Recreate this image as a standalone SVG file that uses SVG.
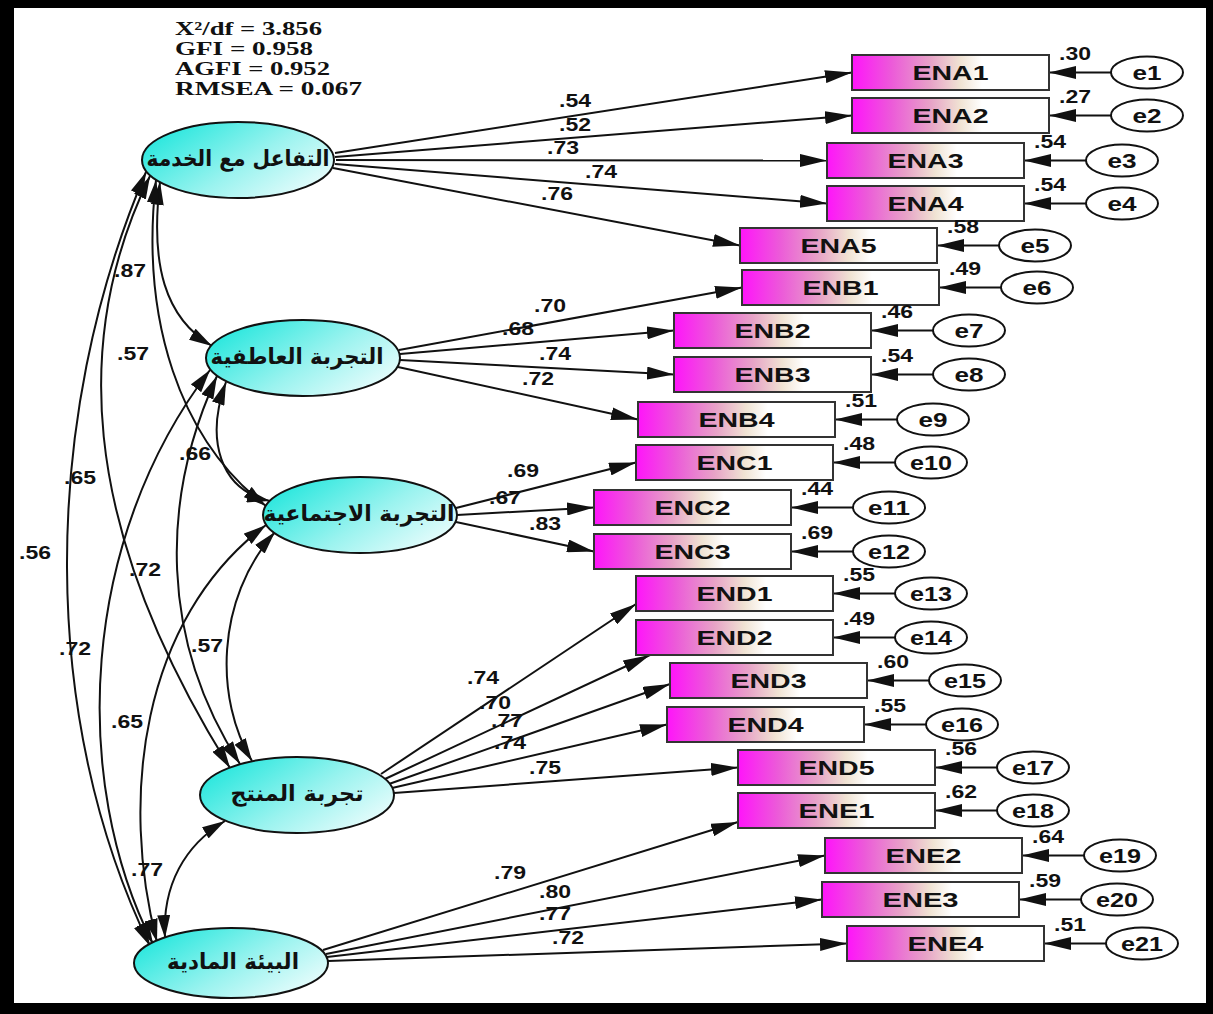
<svg xmlns="http://www.w3.org/2000/svg" width="1213" height="1014" viewBox="0 0 1213 1014">
<defs>
<linearGradient id="gCyan" x1="0" y1="0.2" x2="1" y2="0.8">
<stop offset="0" stop-color="#1fe6dc"/>
<stop offset="0.55" stop-color="#9af3ef"/>
<stop offset="1" stop-color="#eefdfd"/>
</linearGradient>
<linearGradient id="gMag" x1="0" y1="0" x2="1" y2="0">
<stop offset="0" stop-color="#ff14fa"/>
<stop offset="0.2" stop-color="#ec5ad9"/>
<stop offset="0.4" stop-color="#e7a3c7"/>
<stop offset="0.55" stop-color="#f0e3d3"/>
<stop offset="0.66" stop-color="#ffffff"/>
<stop offset="1" stop-color="#ffffff"/>
</linearGradient>
<marker id="ah" viewBox="0 0 27 13" refX="27" refY="6.5" markerWidth="27" markerHeight="13" markerUnits="userSpaceOnUse" orient="auto"><path d="M0,0 L27,6.5 L0,13 z" fill="#111"/></marker>
<marker id="ahc" viewBox="0 0 23 13" refX="23" refY="6.5" markerWidth="23" markerHeight="13" markerUnits="userSpaceOnUse" orient="auto-start-reverse"><path d="M0,0 L23,6.5 L0,13 z" fill="#111"/></marker>
<style>
.lat{fill:url(#gCyan);stroke:#111;stroke-width:2}
.obs{fill:url(#gMag);stroke:#333;stroke-width:2}
.err{fill:#fff;stroke:#111;stroke-width:2}
.ln{stroke:#111;stroke-width:2;fill:none;marker-end:url(#ah)}
.cov{stroke:#111;stroke-width:2;fill:none;marker-start:url(#ahc);marker-end:url(#ahc)}
.lbl{font-family:"Liberation Sans",Arial,sans-serif;font-weight:bold;font-size:19px;fill:#111}
.bx{font-family:"Liberation Sans",Arial,sans-serif;font-weight:bold;font-size:20px;fill:#111}
.ar{font-family:"DejaVu Sans",sans-serif;font-weight:bold;font-size:22px;fill:#111;text-anchor:middle}
.stat{font-family:"Liberation Serif","Times New Roman",serif;font-weight:bold;font-size:19px;fill:#111}
</style>
</defs>
<rect x="0" y="0" width="1213" height="1014" fill="#000"/>
<rect x="14" y="8" width="1192" height="995" fill="#fff"/>
<g id="fit">
<text class="stat" x="175" y="35" textLength="147" lengthAdjust="spacingAndGlyphs">X²/df = 3.856</text>
<text class="stat" x="175" y="55" textLength="138" lengthAdjust="spacingAndGlyphs">GFI = 0.958</text>
<text class="stat" x="175" y="75" textLength="155" lengthAdjust="spacingAndGlyphs">AGFI = 0.952</text>
<text class="stat" x="175" y="95" textLength="187" lengthAdjust="spacingAndGlyphs">RMSEA = 0.067</text>
</g>
<g id="connectors">
<path class="ln" d="M335,153 L852,72.5"/>
<path class="ln" d="M335,157 L852,115.5"/>
<path class="ln" d="M336,160 L827,160.5"/>
<path class="ln" d="M335,164 L827,203.5"/>
<path class="ln" d="M333,168 L740,245.5"/>
<path class="ln" d="M399,350 L742,287.5"/>
<path class="ln" d="M400,354 L674,330.5"/>
<path class="ln" d="M400,360 L674,374.5"/>
<path class="ln" d="M398,367 L638,419.5"/>
<path class="ln" d="M456,508 L636,462.5"/>
<path class="ln" d="M457,515 L594,507.5"/>
<path class="ln" d="M456,522 L594,551.5"/>
<path class="ln" d="M381,774 L636,604"/>
<path class="ln" d="M385,779 L650,655"/>
<path class="ln" d="M389,784 L670,684"/>
<path class="ln" d="M392,788 L667,724.5"/>
<path class="ln" d="M394,793 L738,767.5"/>
<path class="ln" d="M323,950 L738,822"/>
<path class="ln" d="M326,954 L825,855.5"/>
<path class="ln" d="M327,957 L822,899.5"/>
<path class="ln" d="M328,961 L847,943.5"/>
<path class="ln" d="M1111,72.5 L1049,72.5"/>
<path class="ln" d="M1111,115.5 L1049,115.5"/>
<path class="ln" d="M1086,160.5 L1024,160.5"/>
<path class="ln" d="M1086,203.5 L1024,203.5"/>
<path class="ln" d="M999,245.5 L937,245.5"/>
<path class="ln" d="M1001,287.5 L939,287.5"/>
<path class="ln" d="M933,330.5 L871,330.5"/>
<path class="ln" d="M933,374.5 L871,374.5"/>
<path class="ln" d="M897,419.5 L835,419.5"/>
<path class="ln" d="M895,462.5 L833,462.5"/>
<path class="ln" d="M853,507.5 L791,507.5"/>
<path class="ln" d="M853,551.5 L791,551.5"/>
<path class="ln" d="M895,593.5 L833,593.5"/>
<path class="ln" d="M895,637.5 L833,637.5"/>
<path class="ln" d="M929,680.5 L867,680.5"/>
<path class="ln" d="M926,724.5 L864,724.5"/>
<path class="ln" d="M997,767.5 L935,767.5"/>
<path class="ln" d="M997,810.5 L935,810.5"/>
<path class="ln" d="M1084,855.5 L1022,855.5"/>
<path class="ln" d="M1081,899.5 L1019,899.5"/>
<path class="ln" d="M1106,943.5 L1044,943.5"/>
<path class="cov" d="M160,182 C150,265 165,318 212,346"/>
<path class="cov" d="M156,180 C140,320 180,440 266,506"/>
<path class="cov" d="M150,176 C75,330 75,520 230,768"/>
<path class="cov" d="M146,172 C40,420 40,720 150,946"/>
<path class="cov" d="M226,382 C205,440 220,490 270,501"/>
<path class="cov" d="M217,376 C160,500 160,640 240,764"/>
<path class="cov" d="M210,370 C80,540 70,780 153,944"/>
<path class="cov" d="M275,532 C215,600 215,700 252,761"/>
<path class="cov" d="M266,525 C140,620 120,800 157,942"/>
<path class="cov" d="M225,821 C185,845 162,885 165,938"/>
<g class="lbl">
<text x="559" y="107" textLength="32" lengthAdjust="spacingAndGlyphs">.54</text>
<text x="559" y="131" textLength="32" lengthAdjust="spacingAndGlyphs">.52</text>
<text x="547" y="154" textLength="32" lengthAdjust="spacingAndGlyphs">.73</text>
<text x="585" y="178" textLength="32" lengthAdjust="spacingAndGlyphs">.74</text>
<text x="541" y="200" textLength="32" lengthAdjust="spacingAndGlyphs">.76</text>
<text x="534" y="312" textLength="32" lengthAdjust="spacingAndGlyphs">.70</text>
<text x="502" y="335" textLength="32" lengthAdjust="spacingAndGlyphs">.68</text>
<text x="539" y="360" textLength="32" lengthAdjust="spacingAndGlyphs">.74</text>
<text x="522" y="385" textLength="32" lengthAdjust="spacingAndGlyphs">.72</text>
<text x="507" y="477" textLength="32" lengthAdjust="spacingAndGlyphs">.69</text>
<text x="489" y="504" textLength="32" lengthAdjust="spacingAndGlyphs">.67</text>
<text x="529" y="530" textLength="32" lengthAdjust="spacingAndGlyphs">.83</text>
<text x="467" y="684" textLength="32" lengthAdjust="spacingAndGlyphs">.74</text>
<text x="479" y="709" textLength="32" lengthAdjust="spacingAndGlyphs">.70</text>
<text x="491" y="727" textLength="32" lengthAdjust="spacingAndGlyphs">.77</text>
<text x="494" y="749" textLength="32" lengthAdjust="spacingAndGlyphs">.74</text>
<text x="529" y="774" textLength="32" lengthAdjust="spacingAndGlyphs">.75</text>
<text x="494" y="879" textLength="32" lengthAdjust="spacingAndGlyphs">.79</text>
<text x="539" y="898" textLength="32" lengthAdjust="spacingAndGlyphs">.80</text>
<text x="539" y="920" textLength="32" lengthAdjust="spacingAndGlyphs">.77</text>
<text x="552" y="944" textLength="32" lengthAdjust="spacingAndGlyphs">.72</text>
<text x="114" y="277" textLength="32" lengthAdjust="spacingAndGlyphs">.87</text>
<text x="117" y="360" textLength="32" lengthAdjust="spacingAndGlyphs">.57</text>
<text x="64" y="484" textLength="32" lengthAdjust="spacingAndGlyphs">.65</text>
<text x="19" y="559" textLength="32" lengthAdjust="spacingAndGlyphs">.56</text>
<text x="129" y="576" textLength="32" lengthAdjust="spacingAndGlyphs">.72</text>
<text x="59" y="655" textLength="32" lengthAdjust="spacingAndGlyphs">.72</text>
<text x="179" y="460" textLength="32" lengthAdjust="spacingAndGlyphs">.66</text>
<text x="191" y="652" textLength="32" lengthAdjust="spacingAndGlyphs">.57</text>
<text x="111" y="728" textLength="32" lengthAdjust="spacingAndGlyphs">.65</text>
<text x="131" y="876" textLength="32" lengthAdjust="spacingAndGlyphs">.77</text>
</g>
</g>
<g id="F1"><ellipse class="lat" cx="238" cy="160" rx="96" ry="38"/><text class="ar" x="238" y="166" textLength="183" lengthAdjust="spacingAndGlyphs">التفاعل مع الخدمة</text></g>
<g id="F2"><ellipse class="lat" cx="303" cy="358" rx="97" ry="38"/><text class="ar" x="297" y="364" textLength="173" lengthAdjust="spacingAndGlyphs">التجربة العاطفية</text></g>
<g id="F3"><ellipse class="lat" cx="360" cy="515" rx="97" ry="38"/><text class="ar" x="359" y="521" textLength="191" lengthAdjust="spacingAndGlyphs">التجربة الاجتماعية</text></g>
<g id="F4"><ellipse class="lat" cx="297" cy="795" rx="97" ry="38"/><text class="ar" x="297" y="801" textLength="133" lengthAdjust="spacingAndGlyphs">تجربة المنتج</text></g>
<g id="F5"><ellipse class="lat" cx="231" cy="963" rx="97" ry="35"/><text class="ar" x="233" y="969" textLength="132" lengthAdjust="spacingAndGlyphs">البيئة المادية</text></g>
<g id="ENA1"><rect class="obs" x="852" y="55" width="197" height="35"/><text class="bx" x="912.5" y="80" textLength="76" lengthAdjust="spacingAndGlyphs">ENA1</text><text class="lbl" x="1059" y="60" textLength="32" lengthAdjust="spacingAndGlyphs">.30</text></g>
<g id="ENA2"><rect class="obs" x="852" y="98" width="197" height="35"/><text class="bx" x="912.5" y="123" textLength="76" lengthAdjust="spacingAndGlyphs">ENA2</text><text class="lbl" x="1059" y="103" textLength="32" lengthAdjust="spacingAndGlyphs">.27</text></g>
<g id="ENA3"><rect class="obs" x="827" y="143" width="197" height="35"/><text class="bx" x="887.5" y="168" textLength="76" lengthAdjust="spacingAndGlyphs">ENA3</text><text class="lbl" x="1034" y="148" textLength="32" lengthAdjust="spacingAndGlyphs">.54</text></g>
<g id="ENA4"><rect class="obs" x="827" y="186" width="197" height="35"/><text class="bx" x="887.5" y="211" textLength="76" lengthAdjust="spacingAndGlyphs">ENA4</text><text class="lbl" x="1034" y="191" textLength="32" lengthAdjust="spacingAndGlyphs">.54</text></g>
<g id="ENA5"><rect class="obs" x="740" y="228" width="197" height="35"/><text class="bx" x="800.5" y="253" textLength="76" lengthAdjust="spacingAndGlyphs">ENA5</text><text class="lbl" x="947" y="233" textLength="32" lengthAdjust="spacingAndGlyphs">.58</text></g>
<g id="ENB1"><rect class="obs" x="742" y="270" width="197" height="35"/><text class="bx" x="802.5" y="295" textLength="76" lengthAdjust="spacingAndGlyphs">ENB1</text><text class="lbl" x="949" y="275" textLength="32" lengthAdjust="spacingAndGlyphs">.49</text></g>
<g id="ENB2"><rect class="obs" x="674" y="313" width="197" height="35"/><text class="bx" x="734.5" y="338" textLength="76" lengthAdjust="spacingAndGlyphs">ENB2</text><text class="lbl" x="881" y="318" textLength="32" lengthAdjust="spacingAndGlyphs">.46</text></g>
<g id="ENB3"><rect class="obs" x="674" y="357" width="197" height="35"/><text class="bx" x="734.5" y="382" textLength="76" lengthAdjust="spacingAndGlyphs">ENB3</text><text class="lbl" x="881" y="362" textLength="32" lengthAdjust="spacingAndGlyphs">.54</text></g>
<g id="ENB4"><rect class="obs" x="638" y="402" width="197" height="35"/><text class="bx" x="698.5" y="427" textLength="76" lengthAdjust="spacingAndGlyphs">ENB4</text><text class="lbl" x="845" y="407" textLength="32" lengthAdjust="spacingAndGlyphs">.51</text></g>
<g id="ENC1"><rect class="obs" x="636" y="445" width="197" height="35"/><text class="bx" x="696.5" y="470" textLength="76" lengthAdjust="spacingAndGlyphs">ENC1</text><text class="lbl" x="843" y="450" textLength="32" lengthAdjust="spacingAndGlyphs">.48</text></g>
<g id="ENC2"><rect class="obs" x="594" y="490" width="197" height="35"/><text class="bx" x="654.5" y="515" textLength="76" lengthAdjust="spacingAndGlyphs">ENC2</text><text class="lbl" x="801" y="495" textLength="32" lengthAdjust="spacingAndGlyphs">.44</text></g>
<g id="ENC3"><rect class="obs" x="594" y="534" width="197" height="35"/><text class="bx" x="654.5" y="559" textLength="76" lengthAdjust="spacingAndGlyphs">ENC3</text><text class="lbl" x="801" y="539" textLength="32" lengthAdjust="spacingAndGlyphs">.69</text></g>
<g id="END1"><rect class="obs" x="636" y="576" width="197" height="35"/><text class="bx" x="696.5" y="601" textLength="76" lengthAdjust="spacingAndGlyphs">END1</text><text class="lbl" x="843" y="581" textLength="32" lengthAdjust="spacingAndGlyphs">.55</text></g>
<g id="END2"><rect class="obs" x="636" y="620" width="197" height="35"/><text class="bx" x="696.5" y="645" textLength="76" lengthAdjust="spacingAndGlyphs">END2</text><text class="lbl" x="843" y="625" textLength="32" lengthAdjust="spacingAndGlyphs">.49</text></g>
<g id="END3"><rect class="obs" x="670" y="663" width="197" height="35"/><text class="bx" x="730.5" y="688" textLength="76" lengthAdjust="spacingAndGlyphs">END3</text><text class="lbl" x="877" y="668" textLength="32" lengthAdjust="spacingAndGlyphs">.60</text></g>
<g id="END4"><rect class="obs" x="667" y="707" width="197" height="35"/><text class="bx" x="727.5" y="732" textLength="76" lengthAdjust="spacingAndGlyphs">END4</text><text class="lbl" x="874" y="712" textLength="32" lengthAdjust="spacingAndGlyphs">.55</text></g>
<g id="END5"><rect class="obs" x="738" y="750" width="197" height="35"/><text class="bx" x="798.5" y="775" textLength="76" lengthAdjust="spacingAndGlyphs">END5</text><text class="lbl" x="945" y="755" textLength="32" lengthAdjust="spacingAndGlyphs">.56</text></g>
<g id="ENE1"><rect class="obs" x="738" y="793" width="197" height="35"/><text class="bx" x="798.5" y="818" textLength="76" lengthAdjust="spacingAndGlyphs">ENE1</text><text class="lbl" x="945" y="798" textLength="32" lengthAdjust="spacingAndGlyphs">.62</text></g>
<g id="ENE2"><rect class="obs" x="825" y="838" width="197" height="35"/><text class="bx" x="885.5" y="863" textLength="76" lengthAdjust="spacingAndGlyphs">ENE2</text><text class="lbl" x="1032" y="843" textLength="32" lengthAdjust="spacingAndGlyphs">.64</text></g>
<g id="ENE3"><rect class="obs" x="822" y="882" width="197" height="35"/><text class="bx" x="882.5" y="907" textLength="76" lengthAdjust="spacingAndGlyphs">ENE3</text><text class="lbl" x="1029" y="887" textLength="32" lengthAdjust="spacingAndGlyphs">.59</text></g>
<g id="ENE4"><rect class="obs" x="847" y="926" width="197" height="35"/><text class="bx" x="907.5" y="951" textLength="76" lengthAdjust="spacingAndGlyphs">ENE4</text><text class="lbl" x="1054" y="931" textLength="32" lengthAdjust="spacingAndGlyphs">.51</text></g>
<g id="e1"><ellipse class="err" cx="1147" cy="72.5" rx="36" ry="16"/><text class="bx" x="1132.5" y="79.5" textLength="29" lengthAdjust="spacingAndGlyphs">e1</text></g>
<g id="e2"><ellipse class="err" cx="1147" cy="115.5" rx="36" ry="16"/><text class="bx" x="1132.5" y="122.5" textLength="29" lengthAdjust="spacingAndGlyphs">e2</text></g>
<g id="e3"><ellipse class="err" cx="1122" cy="160.5" rx="36" ry="16"/><text class="bx" x="1107.5" y="167.5" textLength="29" lengthAdjust="spacingAndGlyphs">e3</text></g>
<g id="e4"><ellipse class="err" cx="1122" cy="203.5" rx="36" ry="16"/><text class="bx" x="1107.5" y="210.5" textLength="29" lengthAdjust="spacingAndGlyphs">e4</text></g>
<g id="e5"><ellipse class="err" cx="1035" cy="245.5" rx="36" ry="16"/><text class="bx" x="1020.5" y="252.5" textLength="29" lengthAdjust="spacingAndGlyphs">e5</text></g>
<g id="e6"><ellipse class="err" cx="1037" cy="287.5" rx="36" ry="16"/><text class="bx" x="1022.5" y="294.5" textLength="29" lengthAdjust="spacingAndGlyphs">e6</text></g>
<g id="e7"><ellipse class="err" cx="969" cy="330.5" rx="36" ry="16"/><text class="bx" x="954.5" y="337.5" textLength="29" lengthAdjust="spacingAndGlyphs">e7</text></g>
<g id="e8"><ellipse class="err" cx="969" cy="374.5" rx="36" ry="16"/><text class="bx" x="954.5" y="381.5" textLength="29" lengthAdjust="spacingAndGlyphs">e8</text></g>
<g id="e9"><ellipse class="err" cx="933" cy="419.5" rx="36" ry="16"/><text class="bx" x="918.5" y="426.5" textLength="29" lengthAdjust="spacingAndGlyphs">e9</text></g>
<g id="e10"><ellipse class="err" cx="931" cy="462.5" rx="36" ry="16"/><text class="bx" x="910" y="469.5" textLength="42" lengthAdjust="spacingAndGlyphs">e10</text></g>
<g id="e11"><ellipse class="err" cx="889" cy="507.5" rx="36" ry="16"/><text class="bx" x="868" y="514.5" textLength="42" lengthAdjust="spacingAndGlyphs">e11</text></g>
<g id="e12"><ellipse class="err" cx="889" cy="551.5" rx="36" ry="16"/><text class="bx" x="868" y="558.5" textLength="42" lengthAdjust="spacingAndGlyphs">e12</text></g>
<g id="e13"><ellipse class="err" cx="931" cy="593.5" rx="36" ry="16"/><text class="bx" x="910" y="600.5" textLength="42" lengthAdjust="spacingAndGlyphs">e13</text></g>
<g id="e14"><ellipse class="err" cx="931" cy="637.5" rx="36" ry="16"/><text class="bx" x="910" y="644.5" textLength="42" lengthAdjust="spacingAndGlyphs">e14</text></g>
<g id="e15"><ellipse class="err" cx="965" cy="680.5" rx="36" ry="16"/><text class="bx" x="944" y="687.5" textLength="42" lengthAdjust="spacingAndGlyphs">e15</text></g>
<g id="e16"><ellipse class="err" cx="962" cy="724.5" rx="36" ry="16"/><text class="bx" x="941" y="731.5" textLength="42" lengthAdjust="spacingAndGlyphs">e16</text></g>
<g id="e17"><ellipse class="err" cx="1033" cy="767.5" rx="36" ry="16"/><text class="bx" x="1012" y="774.5" textLength="42" lengthAdjust="spacingAndGlyphs">e17</text></g>
<g id="e18"><ellipse class="err" cx="1033" cy="810.5" rx="36" ry="16"/><text class="bx" x="1012" y="817.5" textLength="42" lengthAdjust="spacingAndGlyphs">e18</text></g>
<g id="e19"><ellipse class="err" cx="1120" cy="855.5" rx="36" ry="16"/><text class="bx" x="1099" y="862.5" textLength="42" lengthAdjust="spacingAndGlyphs">e19</text></g>
<g id="e20"><ellipse class="err" cx="1117" cy="899.5" rx="36" ry="16"/><text class="bx" x="1096" y="906.5" textLength="42" lengthAdjust="spacingAndGlyphs">e20</text></g>
<g id="e21"><ellipse class="err" cx="1142" cy="943.5" rx="36" ry="16"/><text class="bx" x="1121" y="950.5" textLength="42" lengthAdjust="spacingAndGlyphs">e21</text></g>
</svg>
